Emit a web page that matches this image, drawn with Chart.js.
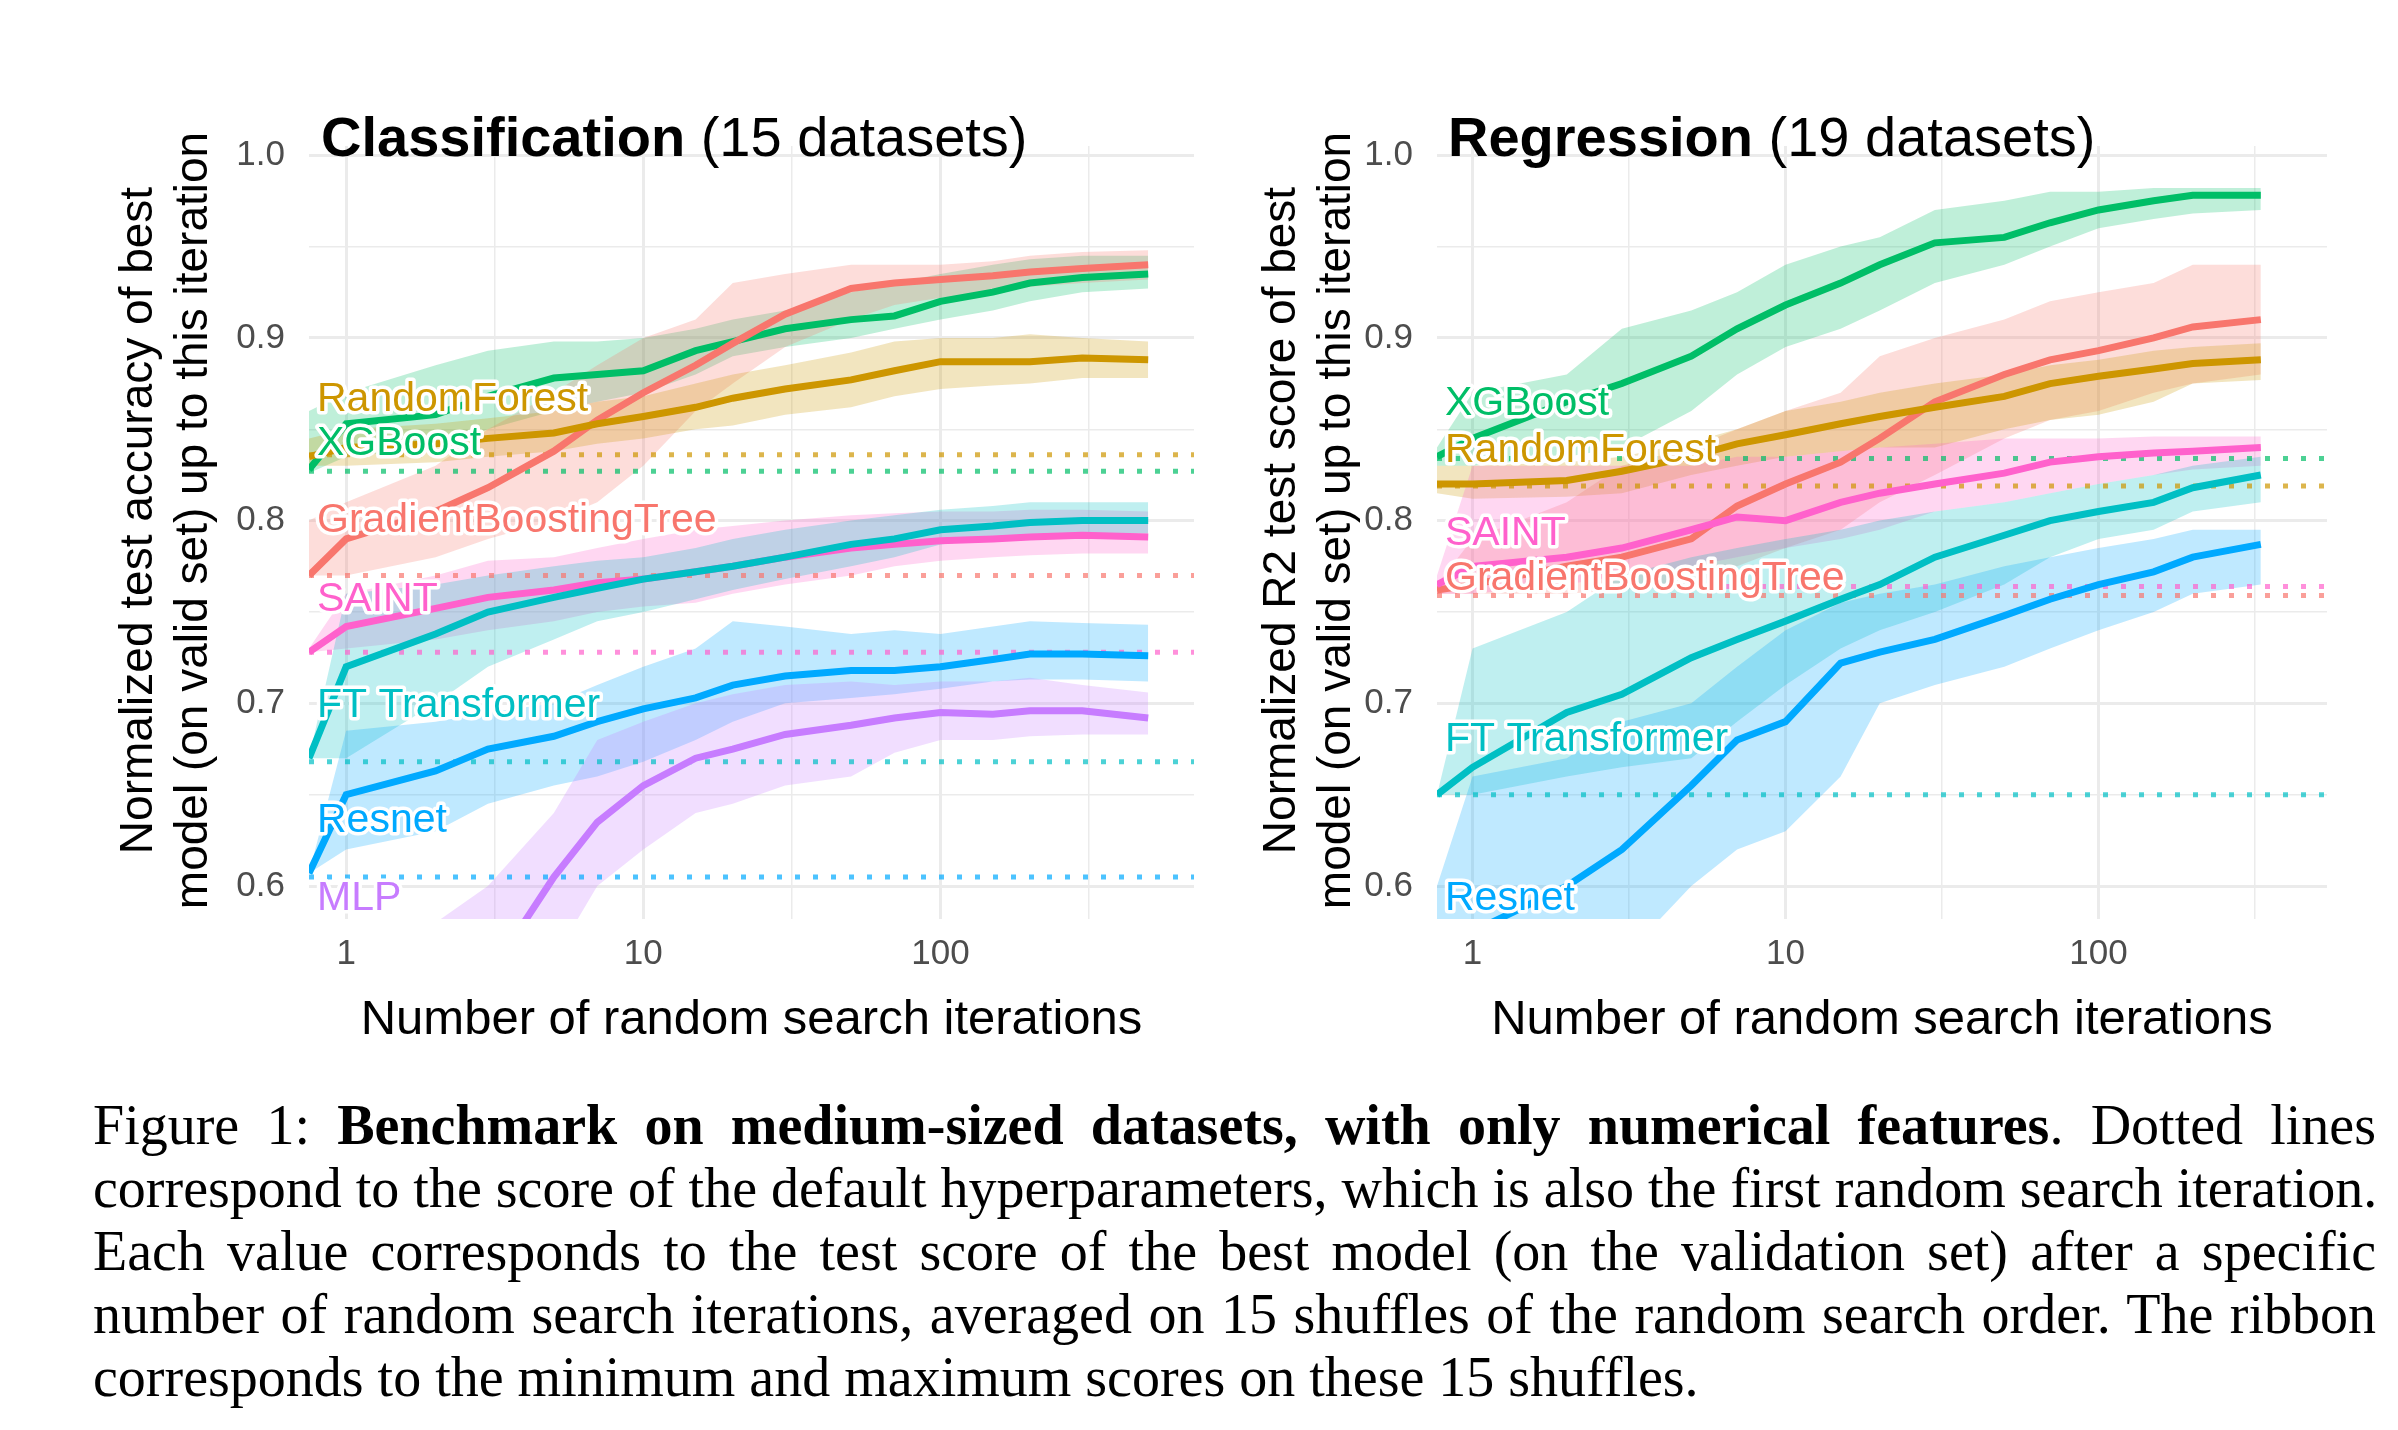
<!DOCTYPE html>
<html><head><meta charset="utf-8">
<script src="https://cdn.jsdelivr.net/npm/chart.js@4"></script>
<style>
body{margin:0;background:#fff;width:2398px;height:1430px;position:relative;overflow:hidden}
canvas{position:absolute}
#cap{position:absolute;left:93px;top:1094px;width:2283px;font-family:"Liberation Serif",serif;font-size:56px;line-height:63px;color:#000}
#cap div{text-align:justify;text-align-last:justify;white-space:nowrap}
#cap div.last{text-align-last:left}
</style></head><body>
<div style="position:absolute;left:0;top:0;width:1220px;height:1070px"><canvas id="c1"></canvas></div>
<div style="position:absolute;left:1125px;top:0;width:1258px;height:1070px"><canvas id="c2"></canvas></div>
<div id="cap">
<div>Figure 1: <b>Benchmark on medium-sized datasets, with only numerical features</b>. Dotted lines</div>
<div>correspond to the score of the default hyperparameters, which is also the first random search iteration.</div>
<div>Each value corresponds to the test score of the best model (on the validation set) after a specific</div>
<div>number of random search iterations, averaged on 15 shuffles of the random search order. The ribbon</div>
<div class="last">corresponds to the minimum and maximum scores on these 15 shuffles.</div>
</div>
<script>
// ---------- Classification ----------
const clsX = [0.75,1,2,3,5,7,10,15,20,30,50,70,100,150,200,300,500];
const clsXGB = [0.828,0.853,0.858,0.868,0.878,0.88,0.882,0.893,0.898,0.905,0.91,0.912,0.92,0.925,0.93,0.933,0.935];
const clsXGBlo = [0.826,0.835,0.84,0.85,0.86,0.865,0.87,0.88,0.89,0.895,0.9,0.905,0.91,0.915,0.92,0.925,0.927];
const clsXGBhi = [0.86,0.87,0.885,0.893,0.898,0.898,0.9,0.905,0.91,0.915,0.925,0.93,0.935,0.94,0.943,0.945,0.945];
const clsRF = [0.835,0.84,0.842,0.845,0.848,0.853,0.857,0.862,0.867,0.872,0.877,0.882,0.887,0.887,0.887,0.889,0.888];
const clsRFlo = [0.83,0.83,0.832,0.835,0.838,0.842,0.845,0.85,0.852,0.858,0.862,0.868,0.872,0.874,0.875,0.878,0.878];
const clsRFhi = [0.845,0.85,0.853,0.856,0.86,0.865,0.868,0.875,0.88,0.885,0.892,0.898,0.9,0.9,0.902,0.9,0.898];
const clsGBT = [0.77,0.79,0.805,0.818,0.838,0.855,0.87,0.885,0.897,0.913,0.927,0.93,0.932,0.934,0.936,0.938,0.94];
const clsGBTlo = [0.77,0.77,0.78,0.79,0.8,0.81,0.83,0.86,0.875,0.895,0.91,0.918,0.922,0.925,0.928,0.93,0.932];
const clsGBThi = [0.8,0.81,0.83,0.85,0.87,0.885,0.9,0.91,0.93,0.935,0.94,0.94,0.94,0.942,0.945,0.947,0.948];
const clsSAINT = [0.728,0.742,0.752,0.758,0.762,0.766,0.768,0.772,0.775,0.78,0.785,0.787,0.789,0.79,0.791,0.792,0.791];
const clsSAINTlo = [0.728,0.73,0.735,0.74,0.745,0.75,0.753,0.755,0.76,0.765,0.77,0.775,0.778,0.78,0.781,0.782,0.782];
const clsSAINThi = [0.73,0.76,0.77,0.778,0.78,0.785,0.79,0.795,0.797,0.8,0.803,0.804,0.805,0.805,0.806,0.806,0.805];
const clsFT = [0.67,0.72,0.738,0.75,0.758,0.763,0.768,0.772,0.775,0.78,0.787,0.79,0.795,0.797,0.799,0.8,0.8];
const clsFTlo = [0.67,0.67,0.7,0.72,0.735,0.745,0.75,0.757,0.762,0.768,0.775,0.78,0.787,0.79,0.792,0.793,0.793];
const clsFThi = [0.67,0.76,0.765,0.77,0.775,0.778,0.78,0.785,0.79,0.795,0.8,0.803,0.806,0.808,0.81,0.81,0.81];
const clsRes = [0.607,0.65,0.663,0.675,0.682,0.69,0.697,0.703,0.71,0.715,0.718,0.718,0.72,0.724,0.727,0.727,0.726];
const clsReslo = [0.607,0.62,0.63,0.645,0.655,0.66,0.668,0.68,0.69,0.7,0.703,0.705,0.708,0.712,0.713,0.713,0.712];
const clsReshi = [0.607,0.685,0.69,0.695,0.7,0.71,0.72,0.73,0.745,0.742,0.738,0.74,0.738,0.742,0.745,0.744,0.743];
const clsMLP = [0.46,0.5,0.53,0.55,0.605,0.635,0.655,0.67,0.675,0.683,0.688,0.692,0.695,0.694,0.696,0.696,0.692];
const clsMLPlo = [0.45,0.48,0.5,0.52,0.56,0.6,0.62,0.64,0.645,0.655,0.66,0.673,0.68,0.68,0.682,0.683,0.683];
const clsMLPhi = [0.5,0.55,0.58,0.6,0.64,0.68,0.69,0.7,0.705,0.71,0.712,0.71,0.712,0.712,0.714,0.71,0.706];
const clsDefault = {RandomForest:0.836, XGBoost:0.827, GradientBoostingTree:0.77, SAINT:0.728, "FT Transformer":0.668, Resnet:0.605};
const clsLabelY = {RandomForest:0.866, XGBoost:0.842, GradientBoostingTree:0.8, SAINT:0.757, "FT Transformer":0.699, Resnet:0.636, MLP:0.593};

// ---------- Regression ----------
const regX = [0.77,1,2,3,5,7,10,15,20,30,50,70,100,150,200,330];
const regXGB = [0.835,0.845,0.865,0.875,0.89,0.905,0.918,0.93,0.94,0.952,0.955,0.963,0.97,0.975,0.978,0.978];
const regXGBlo = [0.83,0.83,0.835,0.84,0.86,0.88,0.895,0.905,0.915,0.93,0.94,0.95,0.96,0.965,0.968,0.97];
const regXGBhi = [0.84,0.87,0.88,0.905,0.915,0.925,0.94,0.95,0.955,0.97,0.975,0.98,0.98,0.982,0.982,0.982];
const regRF = [0.82,0.82,0.822,0.827,0.835,0.842,0.847,0.853,0.857,0.862,0.868,0.875,0.879,0.883,0.886,0.888];
const regRFlo = [0.815,0.812,0.813,0.815,0.825,0.83,0.835,0.838,0.84,0.84,0.85,0.855,0.858,0.865,0.875,0.877];
const regRFhi = [0.83,0.83,0.832,0.835,0.843,0.85,0.86,0.865,0.87,0.875,0.88,0.885,0.888,0.893,0.895,0.897];
const regGBT = [0.762,0.765,0.775,0.78,0.79,0.808,0.82,0.832,0.845,0.865,0.88,0.888,0.893,0.9,0.906,0.91];
const regGBTlo = [0.76,0.76,0.76,0.762,0.765,0.775,0.785,0.795,0.81,0.825,0.845,0.855,0.86,0.87,0.875,0.88];
const regGBThi = [0.765,0.79,0.81,0.83,0.84,0.85,0.86,0.87,0.89,0.9,0.91,0.92,0.925,0.93,0.94,0.94];
const regSAINT = [0.765,0.775,0.78,0.785,0.795,0.802,0.8,0.81,0.815,0.82,0.826,0.832,0.835,0.837,0.838,0.84];
const regSAINTlo = [0.76,0.76,0.765,0.77,0.775,0.78,0.785,0.79,0.795,0.805,0.81,0.815,0.82,0.825,0.828,0.83];
const regSAINThi = [0.77,0.83,0.83,0.83,0.83,0.835,0.835,0.838,0.84,0.842,0.845,0.845,0.845,0.846,0.846,0.846];
const regFT = [0.65,0.665,0.695,0.705,0.725,0.735,0.745,0.757,0.765,0.78,0.792,0.8,0.805,0.81,0.818,0.825];
const regFTlo = [0.65,0.65,0.66,0.665,0.67,0.69,0.71,0.73,0.74,0.75,0.765,0.78,0.79,0.795,0.805,0.81];
const regFThi = [0.65,0.73,0.75,0.77,0.78,0.785,0.79,0.795,0.8,0.805,0.81,0.815,0.82,0.825,0.83,0.835];
const regRes = [0.55,0.575,0.6,0.62,0.655,0.68,0.69,0.722,0.728,0.735,0.748,0.757,0.765,0.772,0.78,0.787];
const regReslo = [0.5,0.53,0.55,0.56,0.6,0.62,0.63,0.66,0.7,0.71,0.72,0.73,0.74,0.75,0.76,0.765];
const regReshi = [0.6,0.66,0.67,0.69,0.7,0.72,0.74,0.755,0.76,0.765,0.775,0.78,0.785,0.79,0.795,0.795];
const regDefault = {XGBoost:0.834, RandomForest:0.819, SAINT:0.764, GradientBoostingTree:0.759, "FT Transformer":0.65};
const regLabelY = {XGBoost:0.864, RandomForest:0.838, SAINT:0.793, GradientBoostingTree:0.768, "FT Transformer":0.68, Resnet:0.593};

const yTickVals = [0.6,0.65,0.7,0.75,0.8,0.85,0.9,0.95,1.0];
const colors = {GradientBoostingTree:"#F8766D", RandomForest:"#CD9600", XGBoost:"#00BE67", "FT Transformer":"#00BFC4", Resnet:"#00A9FF", MLP:"#C77CFF", SAINT:"#FF61CC"};

function hexA(h,a){const n=parseInt(h.slice(1),16);return `rgba(${n>>16},${(n>>8)&255},${n&255},${a})`;}
const pts=(xs,ys)=>xs.map((x,i)=>({x,y:ys[i]}));
const FONT='"Liberation Sans", Arial, sans-serif';

function build(id, xs, series, defaults, labelY, opts){
  const ds=[];
  series.forEach(s=>{
    const c=colors[s.name];
    ds.push({data:pts(xs,s.lo),borderWidth:0,pointRadius:0,fill:false,order:30});
    ds.push({data:pts(xs,s.hi),borderWidth:0,pointRadius:0,fill:'-1',backgroundColor:hexA(c,0.25),order:30});
  });
  Object.entries(defaults).forEach(([n,v])=>{
    ds.push({data:[{x:opts.xmin,y:v},{x:opts.xmax,y:v}],borderColor:hexA(colors[n],0.7),borderWidth:5,borderDash:[5,13],pointRadius:0,fill:false,order:20});
  });
  series.forEach(s=>{
    ds.push({data:pts(xs,s.m),borderColor:colors[s.name],borderWidth:7,pointRadius:0,fill:false,tension:0,order:10});
  });
  const labelsPlugin={id:'lbl',afterDatasetsDraw(ch){
    const ctx=ch.ctx,ys_=ch.scales.y;
    ctx.save();
    ctx.font='41px '+FONT;ctx.textBaseline='middle';ctx.textAlign='left';ctx.lineJoin='round';
    Object.entries(labelY).forEach(([n,v])=>{
      const x=ch.chartArea.left+8,y=ys_.getPixelForValue(v);
      ctx.strokeStyle='#fff';ctx.lineWidth=7;ctx.strokeText(n,x,y);
      ctx.fillStyle=colors[n];ctx.fillText(n,x,y);
    });
    ctx.fillStyle='#000';ctx.textBaseline='middle';
    ctx.font='bold 56px '+FONT;
    const tx=ch.chartArea.left+opts.titleDx;ctx.fillText(opts.titleB,tx,141);
    const w=ctx.measureText(opts.titleB).width;
    ctx.font='56px '+FONT;ctx.fillText(opts.titleN,tx+w,141);
    ctx.font='49px '+FONT;ctx.textAlign='center';
    const cx=(ch.chartArea.left+ch.chartArea.right)/2;
    ctx.fillText('Number of random search iterations',cx,1020);
    const cy=(ch.chartArea.top+ch.chartArea.bottom)/2-12;
    ctx.font='46px '+FONT;
    ctx.translate(opts.ytx,cy);ctx.rotate(-Math.PI/2);
    ctx.fillText(opts.ytitle[0],0,0);ctx.fillText(opts.ytitle[1],0,55);
    ctx.restore();
  }};
  new Chart(document.getElementById(id),{
    type:'line',data:{datasets:ds},
    plugins:[labelsPlugin],
    options:{responsive:true,maintainAspectRatio:false,animation:false,
      layout:{padding:{left:0,right:opts.padR,top:146,bottom:0}},
      plugins:{legend:{display:false},tooltip:{enabled:false}},
      scales:{
        x:{type:'logarithmic',min:opts.xmin,max:opts.xmax,
          afterBuildTicks:s=>{s.ticks=[1,3.1623,10,31.623,100,316.23].map(v=>({value:v}));},
          afterFit:s=>{s.height=151;},
          border:{display:false},
          grid:{color:'#EBEBEB',lineWidth:c=>[1,10,100].includes(c.tick&&c.tick.value)?3:1.5,drawTicks:false},
          ticks:{autoSkip:false,maxRotation:0,padding:14,color:'#4D4D4D',font:{size:35,family:FONT},
            callback:v=>[1,10,100].includes(v)?String(v):''}},
        y:{type:'linear',min:0.582,max:1.005,
          afterBuildTicks:s=>{s.ticks=yTickVals.map(v=>({value:v}));},
          afterFit:s=>{s.width=opts.yw;},
          border:{display:false},
          grid:{color:'#EBEBEB',lineWidth:c=>{const v=c.tick&&c.tick.value;return v!==undefined&&Math.abs(v*10-Math.round(v*10))<1e-6?3:1.5;},drawTicks:false},
          ticks:{autoSkip:false,padding:24,color:'#4D4D4D',font:{size:35,family:FONT},
            callback:v=>Math.abs(v*10-Math.round(v*10))<1e-6?v.toFixed(1):''}}
      }}
  });
}

build('c1',clsX,[
  {name:'MLP',m:clsMLP,lo:clsMLPlo,hi:clsMLPhi},
  {name:'Resnet',m:clsRes,lo:clsReslo,hi:clsReshi},
  {name:'FT Transformer',m:clsFT,lo:clsFTlo,hi:clsFThi},
  {name:'SAINT',m:clsSAINT,lo:clsSAINTlo,hi:clsSAINThi},
  {name:'RandomForest',m:clsRF,lo:clsRFlo,hi:clsRFhi},
  {name:'GradientBoostingTree',m:clsGBT,lo:clsGBTlo,hi:clsGBThi},
  {name:'XGBoost',m:clsXGB,lo:clsXGBlo,hi:clsXGBhi}
],clsDefault,clsLabelY,{xmin:0.75,xmax:713,padR:26,yw:309,titleDx:12,titleB:'Classification',titleN:' (15 datasets)',ytx:139,
  ytitle:['Normalized test accuracy of best','model (on valid set) up to this iteration']});

build('c2',regX,[
  {name:'Resnet',m:regRes,lo:regReslo,hi:regReshi},
  {name:'FT Transformer',m:regFT,lo:regFTlo,hi:regFThi},
  {name:'SAINT',m:regSAINT,lo:regSAINTlo,hi:regSAINThi},
  {name:'RandomForest',m:regRF,lo:regRFlo,hi:regRFhi},
  {name:'GradientBoostingTree',m:regGBT,lo:regGBTlo,hi:regGBThi},
  {name:'XGBoost',m:regXGB,lo:regXGBlo,hi:regXGBhi}
],regDefault,regLabelY,{xmin:0.77,xmax:537,padR:56,yw:312,titleDx:11,titleB:'Regression',titleN:' (19 datasets)',ytx:157,
  ytitle:['Normalized R2 test score of best','model (on valid set) up to this iteration']});
</script>
</body></html>
